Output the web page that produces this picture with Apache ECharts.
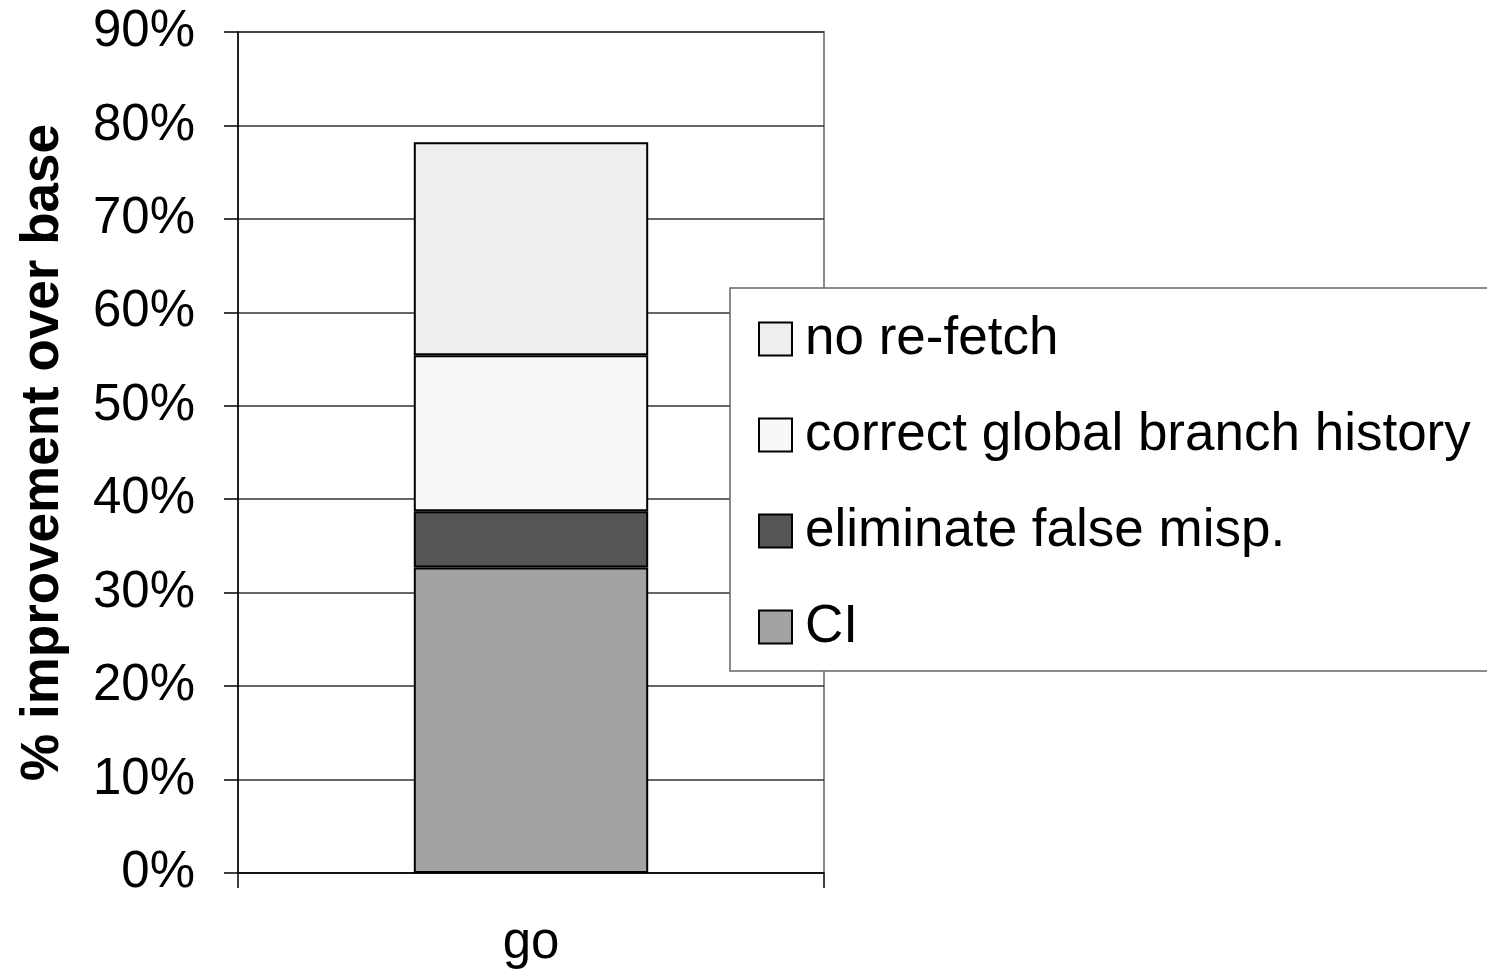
<!DOCTYPE html>
<html>
<head>
<meta charset="utf-8">
<script src="https://cdn.jsdelivr.net/npm/echarts@6/dist/echarts.min.js"></script>
<style>
	html, body { margin: 0; padding: 0; background: #fff; }
	#chart { width: 1487px; height: 979px; }
</style>
</head>
<body>
<div id="chart"></div>
<script>
// data
var categories = ['go'];
var ciValues = [32.7];
var elimValues = [6.0];
var globalValues = [16.7];
var refetchValues = [22.8];
var legendOrder = ['no re-fetch', 'correct global branch history', 'eliminate false misp.', 'CI'];

var fontName = '"Liberation Sans", Arial, sans-serif';

function barSeries(name, color, values) {
	return {
		name: name,
		type: 'bar',
		stack: 'total',
		barWidth: '40%',
		itemStyle: {
			color: color,
			borderColor: '#000',
			borderWidth: 2
		},
		data: values
	};
}

var chart = echarts.init(document.getElementById('chart'));
chart.setOption({
	animation: false,
	textStyle: { fontFamily: fontName },
	grid: {
		left: 238,
		right: 663,
		top: 32,
		bottom: 106,
		show: true,
		borderColor: '#888',
		borderWidth: 2
	},
	legend: {
		data: legendOrder,
		orient: 'vertical',
		left: 730,
		top: 288,
		padding: [23, 40, 16, 28],
		itemGap: 40,
		itemWidth: 33,
		itemHeight: 33,
		itemTextGap: 19,
		icon: 'rect',
		backgroundColor: '#fff',
		borderColor: '#666',
		borderWidth: 1.5,
		textStyle: {
			fontSize: 53,
			lineHeight: 56,
			color: '#000',
			fontFamily: fontName,
			padding: [0, 0, 0, 8]
		}
	},
	xAxis: {
		type: 'category',
		data: categories,
		axisLine: { lineStyle: { color: '#000', width: 1.5 } },
		axisTick: { show: true, interval: 0, length: 15, lineStyle: { color: '#000', width: 1.5 } },
		axisLabel: { fontSize: 51, color: '#000', margin: 45 }
	},
	yAxis: {
		type: 'value',
		min: 0,
		max: 90,
		interval: 10,
		name: '% improvement over base',
		nameLocation: 'middle',
		nameGap: 168,
		nameTextStyle: { fontSize: 53, fontWeight: 'bold', color: '#000' },
		axisLine: { show: true, lineStyle: { color: '#000', width: 1.5 } },
		axisTick: { show: true, length: 14, lineStyle: { color: '#000', width: 1.5 } },
		axisLabel: { fontSize: 51, color: '#000', margin: 43, formatter: '{value}%', padding: [6, 0, 0, 0] },
		splitLine: { lineStyle: { color: '#333', width: 1.5 } }
	},
	series: [
		barSeries('CI', '#a3a3a3', ciValues),
		barSeries('eliminate false misp.', '#555555', elimValues),
		barSeries('correct global branch history', '#f8f8f8', globalValues),
		barSeries('no re-fetch', '#eeeeee', refetchValues)
	]
});
</script>
</body>
</html>
